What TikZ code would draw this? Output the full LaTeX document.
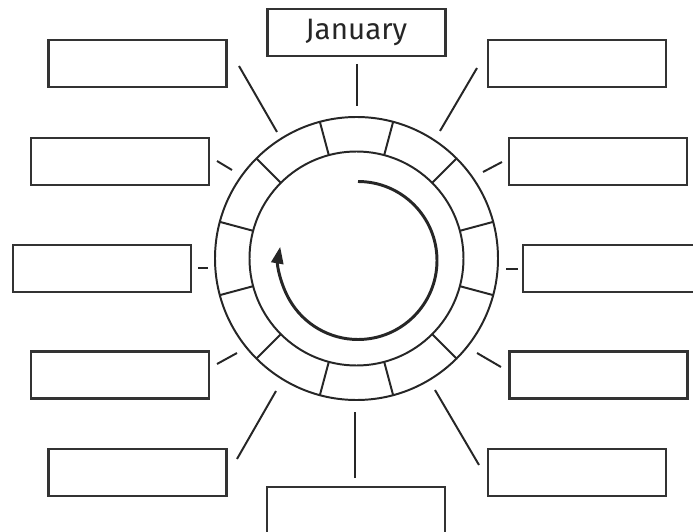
\documentclass[tikz,border=0pt]{standalone}
\usepackage{fontspec}
\setmainfont{Fira Sans}
\usetikzlibrary{arrows.meta}

\tikzset{
    month/.style={draw=black!80, line width=1.6pt, minimum width=4.45cm,
        minimum height=1.175cm, inner sep=0pt, text=black!85,
        font=\fontsize{21}{24}\selectfont},
    wheel/.style={line width=1.4pt, black!85},
    pointer/.style={line width=1.4pt, black!85},
    cyclearrow/.style={line width=2.1pt, black!85},
}

\begin{document}
\begin{tikzpicture}[x=0.025cm, y=-0.025cm]

    \useasboundingbox (0,0) rectangle (693,532);

    %% Year wheel

    % Rings
    \coordinate (ring) at (356.5,258.5);
    \draw[wheel] (ring) circle (141.5);
    \draw[wheel] (ring) circle (107);
    \foreach \a in {15,45,...,345}
        \draw[wheel, shift={(ring)}] (\a:107) -- (\a:141.5);

    % Turning arrow
    \coordinate (spin) at (358,260.5);
    \draw[cyclearrow, -{Triangle[length=4.2mm, width=3mm]}]
        (spin) ++(0,-79) arc[start angle=-90, end angle=190, radius=79];

    %% Month boxes
    \node[month] (jan) at (356.5,32.5) {January};
    \node[month] (feb) at (577,63.5) {};
    \node[month] (mar) at (598,161.5) {};
    \node[month] (apr) at (612,268.5) {};
    \node[month] (may) at (598.5,375) {};
    \node[month] (jun) at (577,472.5) {};
    \node[month] (jul) at (356,510.5) {};
    \node[month] (aug) at (137.5,472.5) {};
    \node[month] (sep) at (120,375) {};
    \node[month] (oct) at (101.7,268.5) {};
    \node[month] (nov) at (120,161.5) {};
    \node[month] (dec) at (137.5,63.5) {};

    % Pointers
    \foreach \n/\ax/\ay/\bx/\by in {jan/357/64/357/106, feb/477/68/440/131,
        mar/502/162/483/172, apr/518/269/506/269, may/501/367/477/353,
        jun/479/465/435/390, jul/355/478/355/412, aug/237/459/276/391,
        sep/217/364/237/353, oct/198/268/208/268, nov/217/161/232/170,
        dec/239/66/277/132}
    {
        \coordinate (\n-out) at (\ax,\ay);
        \coordinate (\n-in) at (\bx,\by);
        \draw[pointer] (\n-out) -- (\n-in);
    }

\end{tikzpicture}
\end{document}
